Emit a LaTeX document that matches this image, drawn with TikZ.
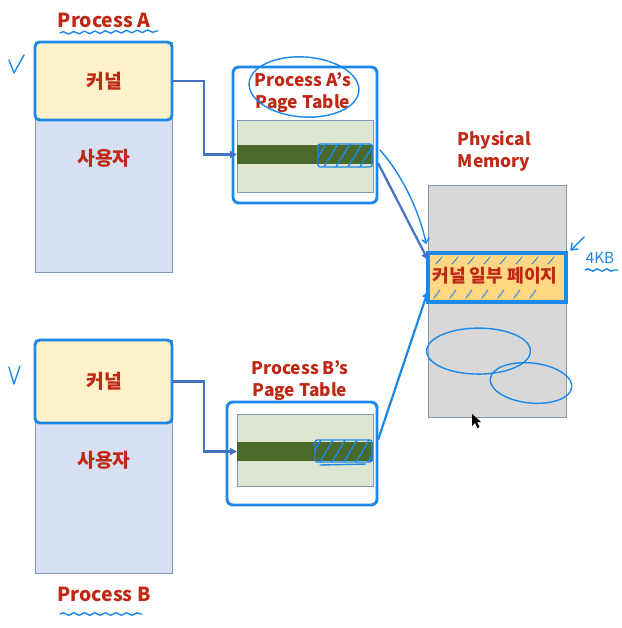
\documentclass[tikz,border=0pt]{standalone}
\usepackage{fontspec}
\newfontfamily\kr{Noto Sans CJK KR}
\usetikzlibrary{decorations.pathmorphing,arrows.meta,calc}
\definecolor{redtxt}{RGB}{192,40,22}
\definecolor{hblue}{RGB}{28,136,232}
\definecolor{arrblue}{RGB}{68,114,196}
\definecolor{kfill}{RGB}{255,241,201}
\definecolor{ufill}{RGB}{214,224,242}
\definecolor{edgeg}{RGB}{132,151,176}
\definecolor{gfill}{RGB}{220,230,210}
\definecolor{gdark}{RGB}{74,106,44}
\definecolor{mfill}{RGB}{216,216,216}
\definecolor{pfill}{RGB}{255,214,130}
\newcommand\pxu{0.03cm}
\tikzset{
  boxbase/.style={inner sep=0pt, outer sep=0pt, anchor=north west},
  userbox/.style={boxbase, draw=edgeg, line width=0.8pt, fill=ufill},
  kernbox/.style={boxbase, draw=hblue, line width=2.5pt, fill=kfill, rounded corners=4pt},
  ptouter/.style={boxbase, draw=hblue, line width=2.5pt, fill=white, rounded corners=5pt},
  ptinner/.style={boxbase, draw=edgeg, line width=0.8pt, fill=gfill},
  ptband/.style={boxbase, fill=gdark},
  hatchbox/.style={boxbase, draw=hblue, line width=1.1pt, rounded corners=2pt},
  membox/.style={boxbase, draw=edgeg, line width=0.8pt, fill=mfill},
  pagebox/.style={boxbase, draw=hblue, line width=2.6pt, fill=pfill},
  lbl/.style={font=\kr\bfseries\fontsize{16.5}{20}\selectfont, text=redtxt, inner sep=0pt},
  slbl/.style={font=\kr\bfseries\fontsize{14.8}{18.5}\selectfont, text=redtxt, inner sep=0pt, align=center},
  arr/.style={draw=arrblue, line width=1.9pt, -{Triangle[length=6pt,width=6pt]}},
  hand/.style={draw=hblue, line width=1.2pt, line cap=round, line join=round},
  wavy/.style={hand, decorate, decoration={snake, amplitude=1.1pt, segment length=9pt}},
}
\begin{document}
\begin{tikzpicture}[x=0.03cm,y=-0.03cm]
\useasboundingbox (0,0) rectangle (621,628);

% ---------- Process A ----------
\node[userbox, minimum width=137*\pxu, minimum height=230*\pxu] (uA) at (35,42) {};
\node[kernbox, minimum width=137*\pxu, minimum height=78*\pxu] (kA) at (35,42) {};
\node[lbl] (kAt) at (104,81) {커널};
\node[lbl] (uAt) at (104,158) {사용자};
\node[lbl] (pA) at (104,20) {Process A};
\coordinate (wA1) at (60,33); \coordinate (wA2) at (158,31);
\draw[wavy] (wA1) -- (wA2);
\coordinate (cA1) at (9,60); \coordinate (cA2) at (14,73); \coordinate (cA3) at (24,55);
\draw[hand] (cA1) -- (cA2) -- (cA3);

% ---------- Process B ----------
\node[userbox, minimum width=137*\pxu, minimum height=233*\pxu] (uB) at (35,340) {};
\node[kernbox, minimum width=137*\pxu, minimum height=83*\pxu] (kB) at (35,340) {};
\node[lbl] (kBt) at (104,381) {커널};
\node[lbl] (uBt) at (104,460) {사용자};
\node[lbl] (pB) at (104,594) {Process B};
\coordinate (wB1) at (60,614); \coordinate (wB2) at (142,614);
\draw[wavy] (wB1) -- (wB2);
\coordinate (cB1) at (9,367); \coordinate (cB2) at (14,384); \coordinate (cB3) at (20,366);
\draw[hand] (cB1) -- (cB2) -- (cB3);

% ---------- Page table A ----------
\node[ptouter, minimum width=144*\pxu, minimum height=136*\pxu] (ptA) at (233,67) {};
\node[ptinner, minimum width=136*\pxu, minimum height=72*\pxu] (inA) at (237,120) {};
\node[ptband, minimum width=136*\pxu, minimum height=19*\pxu] (bandA) at (237,145) {};
\node[slbl] (ptAt) at (303,93) {Process A’s\\Page Table};
\node[hatchbox, minimum width=54*\pxu, minimum height=23*\pxu] (hA) at (318,144) {};
\begin{scope}
  \clip (318,144) rectangle (372,167);
  \foreach \xx in {312,324,336,348,360,372} \draw[hand] (\xx,167) -- (\xx+14,144);
\end{scope}
\coordinate (elA) at (304,87);
\draw[hand, rotate around={-4:(elA)}] (elA) ellipse [x radius=55, y radius=30];

% ---------- Page table B ----------
\node[ptouter, minimum width=150*\pxu, minimum height=103*\pxu] (ptB) at (227,402) {};
\node[ptinner, minimum width=136*\pxu, minimum height=72*\pxu] (inB) at (237,414) {};
\node[ptband, minimum width=136*\pxu, minimum height=19*\pxu] (bandB) at (237,442) {};
\node[slbl] (ptBt) at (300,381) {Process B’s\\Page Table};
\node[hatchbox, minimum width=57*\pxu, minimum height=22*\pxu] (hB) at (315,440) {};
\begin{scope}
  \clip (315,440) rectangle (372,462);
  \foreach \xx in {308,320,332,344,356,368} \draw[hand] (\xx,462) -- (\xx+13,440);
\end{scope}
\coordinate (uh1) at (320,465); \coordinate (uh2) at (366,464);
\draw[hand] (uh1) -- (uh2);

% ---------- Physical memory ----------
\node[slbl] (pmt) at (494,151) {Physical\\Memory};
\node[membox, minimum width=138*\pxu, minimum height=232*\pxu] (mem) at (428,185) {};
\node[pagebox, minimum width=138*\pxu, minimum height=49*\pxu] (kpage) at (428,253) {};
\foreach \xx in {436,452,468,484,500,516,532,548} \draw[hand, line width=0.8pt] (\xx,264) -- (\xx+6,257);
\foreach \xx in {434,450,466,482,498,514,530} \draw[hand, line width=0.8pt] (\xx,298) -- (\xx+6,290);
\node[lbl, font=\kr\bfseries\fontsize{15.5}{18}\selectfont] (kpt) at (495,276) {커널 일부 페이지};
\coordinate (e1) at (477,350);
\draw[hand] ([shift={(-3,24)}]e1) arc[start angle=95, end angle=455, x radius=52, y radius=23];
\coordinate (e2) at (531,383);
\draw[hand, rotate around={-6:(e2)}] (e2) ellipse [x radius=41, y radius=20];

% 4KB
\node[font=\kr\fontsize{13}{15}\selectfont, text=hblue, inner sep=0pt] (kb) at (600,258) {4KB};
\coordinate (wk1) at (585,270); \coordinate (wk2) at (618,270);
\draw[wavy, decoration={snake, amplitude=1pt, segment length=8pt}] (wk1) -- (wk2);
\coordinate (ka1) at (584,237); \coordinate (ka2) at (571,250);
\draw[hand] (ka1) -- (ka2);
\draw[hand] ($(ka2)+(1,-7)$) -- (ka2) -- ($(ka2)+(7,-1)$);

% ---------- connectors ----------
\draw[arr] (kA.east) -- ++(32,0) |- (bandA.west);
\draw[arr] (kB.east) -- ++(32,0) |- (bandB.west);
\coordinate (sA) at (378,163);
\coordinate (tA) at (428,260);
\draw[arr] (sA) -- (tA);
\coordinate (sB) at (378,440);
\coordinate (tB) at (428,291);
\draw[draw=hblue, line width=1.9pt, -{Triangle[length=6pt,width=6pt]}] (sB) -- (tB);
\coordinate (hs) at (380,150);
\coordinate (he) at (426,243);
\draw[hand] (hs) .. controls (398,170) and (418,205) .. (he);
\draw[hand] ($(he)+(-4,-3)$) -- (he) -- ($(he)+(3,-5)$);

% mouse cursor
\coordinate (cur) at (472,414);
\fill[black] (cur) -- ++(0,12) -- ++(3,-3) -- ++(2.5,5) -- ++(2,-1) -- ++(-2.5,-5) -- ++(4,0) -- cycle;
\end{tikzpicture}
\end{document}
